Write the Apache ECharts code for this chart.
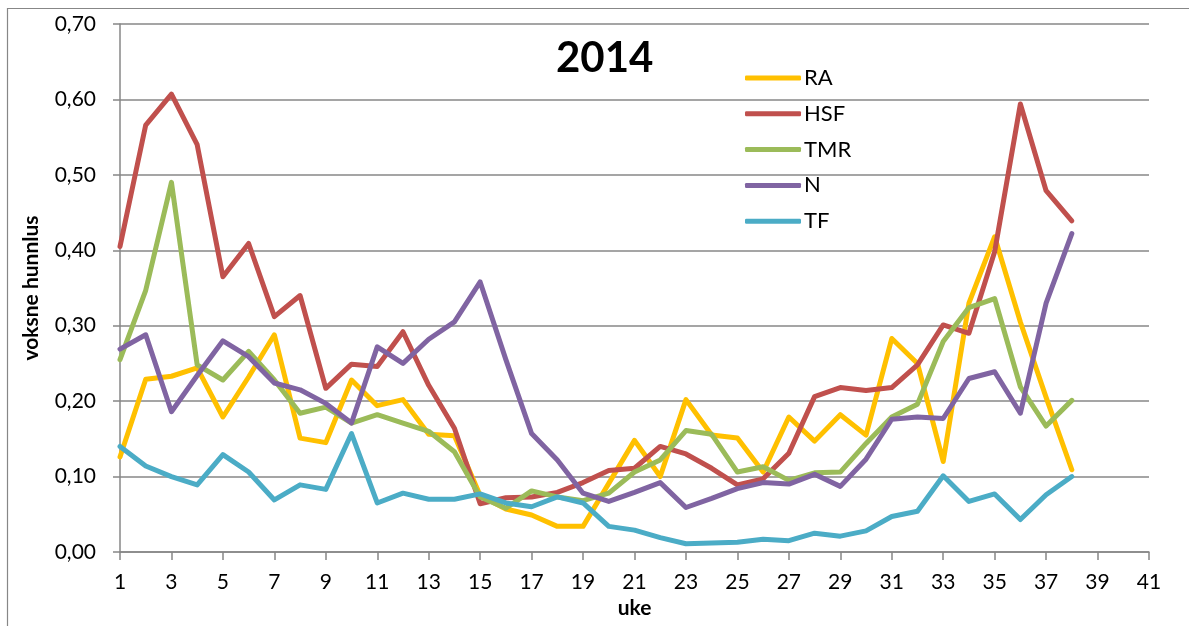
<!DOCTYPE html>
<html lang="no">
<head>
    <meta charset="UTF-8">
    <title>2014</title>
    <script src="https://cdn.jsdelivr.net/npm/echarts@6/dist/echarts.min.js"></script>
    <style>
        *{
            margin: 0;
            padding: 0;
        }
        body{
            background: #fff;
        }
        .container{
            width: 1189px;
            height: 626px;
        }
    </style>
</head>
<body>
<div class="container"></div>
<script>
    // uke 1..41 on the axis, data only for 1..38
    let weeks = [];
    for (let i = 1; i <= 41; i++) weeks.push(String(i));

    let RA = [0.126, 0.229, 0.233, 0.244, 0.179, 0.232, 0.288, 0.151, 0.145, 0.228,
        0.194, 0.202, 0.156, 0.154, 0.075, 0.057, 0.049, 0.034, 0.034, 0.091,
        0.148, 0.100, 0.202, 0.155, 0.151, 0.106, 0.179, 0.147, 0.182, 0.155,
        0.283, 0.250, 0.120, 0.330, 0.418, 0.305, 0.205, 0.109];
    let HSF = [0.405, 0.566, 0.607, 0.540, 0.365, 0.409, 0.312, 0.340, 0.217, 0.249,
        0.246, 0.292, 0.221, 0.164, 0.064, 0.072, 0.073, 0.079, 0.092, 0.108,
        0.111, 0.140, 0.130, 0.111, 0.089, 0.097, 0.131, 0.206, 0.218, 0.214,
        0.218, 0.248, 0.301, 0.290, 0.398, 0.594, 0.479, 0.439];
    let TMR = [0.255, 0.347, 0.490, 0.248, 0.228, 0.266, 0.228, 0.184, 0.192, 0.171,
        0.182, 0.171, 0.160, 0.133, 0.073, 0.058, 0.081, 0.073, 0.068, 0.078,
        0.106, 0.122, 0.161, 0.156, 0.106, 0.113, 0.095, 0.105, 0.106, 0.144,
        0.179, 0.196, 0.279, 0.324, 0.336, 0.219, 0.167, 0.201];
    let N = [0.269, 0.288, 0.186, 0.234, 0.280, 0.259, 0.224, 0.215, 0.197, 0.171,
        0.272, 0.250, 0.282, 0.305, 0.358, 0.255, 0.157, 0.122, 0.078, 0.067,
        0.079, 0.092, 0.059, 0.071, 0.084, 0.092, 0.090, 0.103, 0.087, 0.123,
        0.176, 0.179, 0.177, 0.230, 0.239, 0.184, 0.330, 0.422];
    let TF = [0.140, 0.114, 0.100, 0.089, 0.129, 0.106, 0.069, 0.089, 0.083, 0.157,
        0.065, 0.078, 0.070, 0.070, 0.077, 0.065, 0.060, 0.073, 0.065, 0.034,
        0.029, 0.019, 0.011, 0.012, 0.013, 0.017, 0.015, 0.025, 0.021, 0.028,
        0.047, 0.054, 0.101, 0.067, 0.077, 0.043, 0.076, 0.100];

    let names = ['RA', 'HSF', 'TMR', 'N', 'TF'];
    let values = [RA, HSF, TMR, N, TF];
    let colors = ['#FFC000', '#C0504D', '#9BBB59', '#8064A2', '#4BACC6'];

    let font = 'Lato, "Open Sans", sans-serif';
    let grey = '#878787';

    let main = document.querySelectorAll(".container");
    let mycharts = echarts.init(main[0]);

    let series = names.map((name, i) => ({
        name: name,
        type: 'line',
        data: values[i],
        showSymbol: false,
        symbol: 'none',
        color: colors[i],
        lineStyle: {
            width: 5,
            color: colors[i],
            cap: 'round',
            join: 'round'
        },
        animation: false
    }));

    let option = {
        backgroundColor: '#fff',
        textStyle: {fontFamily: font},
        grid: {
            left: 120,
            right: 40,
            top: 24,
            bottom: 74
        },
        legend: {
            orient: 'vertical',
            left: 740,
            top: 61,
            data: names,
            icon: 'roundRect',
            itemWidth: 56,
            itemHeight: 5,
            itemGap: 11.8,
            textStyle: {
                fontFamily: font,
                fontSize: 22,
                lineHeight: 24,
                color: '#000',
                padding: [0, 0, 0, -2]
            }
        },
        graphic: [
            {
                type: 'text',
                left: 603 - 47,
                top: 37,
                style: {
                    text: '2014',
                    font: 'bold 42px ' + font,
                    fill: '#000'
                }
            },
            {
                type: 'rect',
                shape: {x: 7.5, y: 8.5, width: 1300, height: 700},
                style: {fill: 'none', stroke: grey, lineWidth: 1.2},
                silent: true
            }
        ],
        xAxis: {
            type: 'category',
            data: weeks,
            boundaryGap: false,
            name: 'uke',
            nameLocation: 'middle',
            nameGap: 43,
            nameTextStyle: {
                fontFamily: font,
                fontSize: 21,
                fontWeight: 'bold',
                color: '#000'
            },
            axisLine: {lineStyle: {color: grey, width: 1.5}},
            axisTick: {
                interval: 1,
                length: 8,
                lineStyle: {color: grey, width: 1.5}
            },
            axisLabel: {
                interval: 1,
                margin: 20,
                fontSize: 21,
                color: '#000',
                fontFamily: font
            },
            splitLine: {show: false}
        },
        yAxis: {
            type: 'value',
            min: 0,
            max: 0.7,
            interval: 0.1,
            name: 'voksne hunnlus',
            nameLocation: 'middle',
            nameGap: 78,
            nameTextStyle: {
                fontFamily: font,
                fontSize: 21,
                fontWeight: 'bold',
                color: '#000'
            },
            axisLine: {show: true, lineStyle: {color: grey, width: 1.5}},
            axisTick: {
                show: true,
                length: 7,
                lineStyle: {color: grey, width: 1.5}
            },
            axisLabel: {
                margin: 24,
                fontSize: 21,
                color: '#000',
                fontFamily: font,
                formatter: v => v.toFixed(2).replace('.', ',')
            },
            splitLine: {lineStyle: {color: grey, width: 1.5}}
        },
        series
    };

    mycharts.setOption(option);
</script>
</body>
</html>
